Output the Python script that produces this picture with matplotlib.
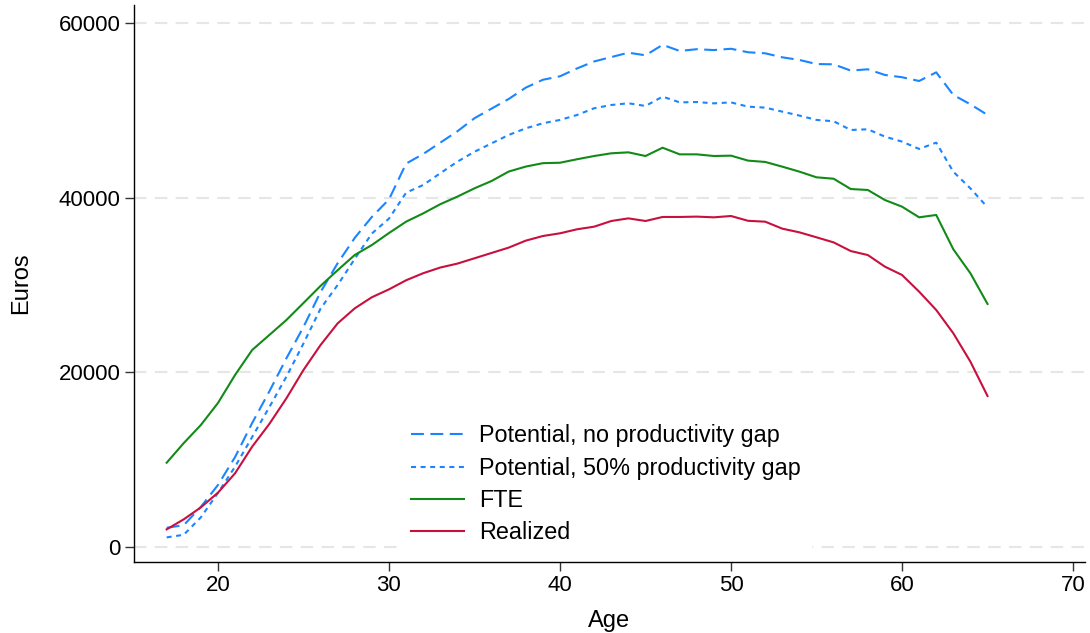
import matplotlib
matplotlib.use("Agg")
import matplotlib.pyplot as plt

plt.rcParams['font.family'] = ['Liberation Sans', 'DejaVu Sans']

ages = list(range(17, 66))

potential_no_gap = [2200, 2500, 4600, 7100, 10300, 14200, 17800, 21600, 25200, 29200,
                    32500, 35400, 37800, 39800, 43900, 45000, 46300, 47600, 49100, 50200,
                    51300, 52600, 53500, 53900, 54800, 55600, 56100, 56600, 56300, 57500,
                    56800, 57000, 56900, 57050, 56650, 56530, 56070, 55770, 55300, 55270,
                    54550, 54700, 54050, 53790, 53360, 54350, 51760, 50690, 49470]

potential_50_gap = [1100, 1400, 3400, 6200, 9200, 12600, 16000, 19500, 23300, 27300,
                    30000, 33000, 35900, 37600, 40570, 41450, 42800, 44120, 45260, 46220,
                    47180, 47940, 48520, 48900, 49470, 50240, 50610, 50810, 50500, 51570,
                    50910, 50950, 50800, 50910, 50420, 50310, 49850, 49400, 48900, 48750,
                    47750, 47830, 46990, 46420, 45580, 46300, 42970, 41060, 38900]

fte = [9650, 11900, 13970, 16490, 19700, 22560, 24270, 25990, 27940, 29900,
       31700, 33440, 34580, 35950, 37250, 38200, 39250, 40120, 41070, 41910,
       42990, 43560, 43950, 44000, 44400, 44770, 45080, 45190, 44770, 45720,
       44960, 44960, 44770, 44810, 44240, 44090, 43550, 42980, 42330, 42170,
       40990, 40880, 39730, 38970, 37750, 38020, 34090, 31340, 27830]

realized = [2020, 3170, 4540, 6220, 8440, 11490, 14080, 17020, 20270, 23130,
            25610, 27330, 28600, 29500, 30540, 31350, 32000, 32450, 33060, 33670,
            34280, 35080, 35610, 35920, 36380, 36680, 37330, 37630, 37330, 37790,
            37790, 37830, 37750, 37900, 37350, 37250, 36450, 36030, 35460, 34880,
            33890, 33430, 32100, 31150, 29240, 27140, 24470, 21220, 17290]

labels = ["Potential, no productivity gap", "Potential, 50% productivity gap", "FTE", "Realized"]
x_ticks = [20, 30, 40, 50, 60, 70]
y_ticks = [0, 20000, 40000, 60000]

fig = plt.figure(figsize=(10.9, 6.33), dpi=100)
ax = fig.add_axes([134/1090, 1 - 562/633, (1085 - 134)/1090, (562 - 5)/633])

lw = 1.5
ax.plot(ages, potential_no_gap, color='#1a85ff', lw=lw, dashes=(6.2, 3.1), label=labels[0])
ax.plot(ages, potential_50_gap, color='#1a85ff', lw=lw, dashes=(2.4, 2.2), label=labels[1])
ax.plot(ages, fte, color='#128a18', lw=lw, label=labels[2])
ax.plot(ages, realized, color='#c8103e', lw=lw, label=labels[3])

ax.set_xlim(15.09, 70.70)
ax.set_ylim(-1717, 62061)
ax.set_xticks(x_ticks)
ax.set_yticks(y_ticks)
ax.set_yticklabels([str(v) for v in y_ticks])
ax.tick_params(axis='both', labelsize=16, length=6.5, width=1.0, direction='out', pad=3, color='#333333')
for yv in y_ticks:
    ax.axhline(yv, color='#e6e6e6', lw=1.5, dashes=(6, 4), zorder=0)
ax.spines['top'].set_visible(False)
ax.spines['right'].set_visible(False)
ax.spines['left'].set_linewidth(1.0)
ax.spines['bottom'].set_linewidth(1.0)

ax.set_xlabel("Age", fontsize=17, labelpad=10)
ax.set_ylabel("Euros", fontsize=17, labelpad=19)

leg = ax.legend(loc='lower left', bbox_to_anchor=((400 - 134)/951, 0.0126), frameon=True, fontsize=16.8,
                handlelength=2.3, handletextpad=0.64, labelspacing=0.40, borderpad=0.45,
                borderaxespad=0)
leg.get_frame().set_facecolor('white')
leg.get_frame().set_edgecolor('white')
leg.get_frame().set_alpha(1.0)
leg.get_frame().set_boxstyle('square', pad=0)

fig.savefig("out.png", dpi=100)
